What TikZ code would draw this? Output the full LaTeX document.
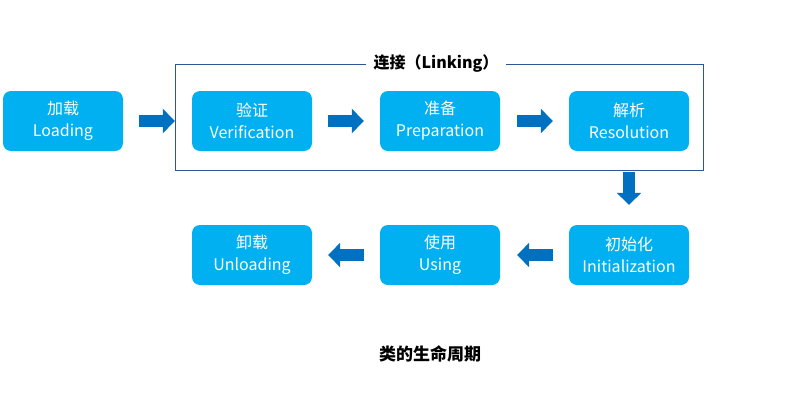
\documentclass[tikz,border=0pt]{standalone}
\usepackage{fontspec}
\setmainfont{Noto Sans CJK SC}
\usetikzlibrary{arrows.meta}
\definecolor{boxblue}{HTML}{00B0F0}
\definecolor{arrowblue}{HTML}{0070C0}
\definecolor{frameblue}{HTML}{2F5597}
\begin{document}
\begin{tikzpicture}[x=1pt, y=-1pt,
  stage/.style={rectangle, rounded corners=8pt, fill=boxblue, text=white, minimum width=120pt, minimum height=60pt, inner sep=0pt, align=center, font=\fontsize{16}{22}\selectfont},
  blockarrow/.style={arrowblue, line width=12pt, -{Triangle[length=12pt, width=24pt]}}]
\useasboundingbox (0,0) rectangle (801,410);
\node[stage] (load) at (63,121){加载\\Loading};
\node[stage] (ver) at (252,121){验证\\Verification};
\node[stage] (prep) at (440,121){准备\\Preparation};
\node[stage] (res) at (629,121){解析\\Resolution};
\node[stage] (init) at (629,255){初始化\\Initialization};
\node[stage] (use) at (440,255){使用\\Using};
\node[stage] (unload) at (252,255){卸载\\Unloading};
\node[font=\bfseries\fontsize{16}{19}\selectfont, inner xsep=7pt] (link) at (436,64){连接（Linking）};
\draw[frameblue, line width=1pt] (link.west) -| (175,170) -| (703,64) -- (link.east);
\draw[blockarrow, shorten <=16pt, shorten >=17pt](load) -- (ver);
\draw[blockarrow, shorten <=16pt, shorten >=16pt](ver) -- (prep);
\draw[blockarrow, shorten <=17pt, shorten >=16pt](prep) -- (res);
\draw[blockarrow, shorten <=21pt, shorten >=20pt](res) -- (init);
\draw[blockarrow, shorten <=16pt, shorten >=17pt](init) -- (use);
\draw[blockarrow, shorten <=16pt, shorten >=16pt](use) -- (unload);
\node[font=\bfseries\fontsize{17}{20}\selectfont] (title) at (430,354){类的生命周期};
\end{tikzpicture}
\end{document}
